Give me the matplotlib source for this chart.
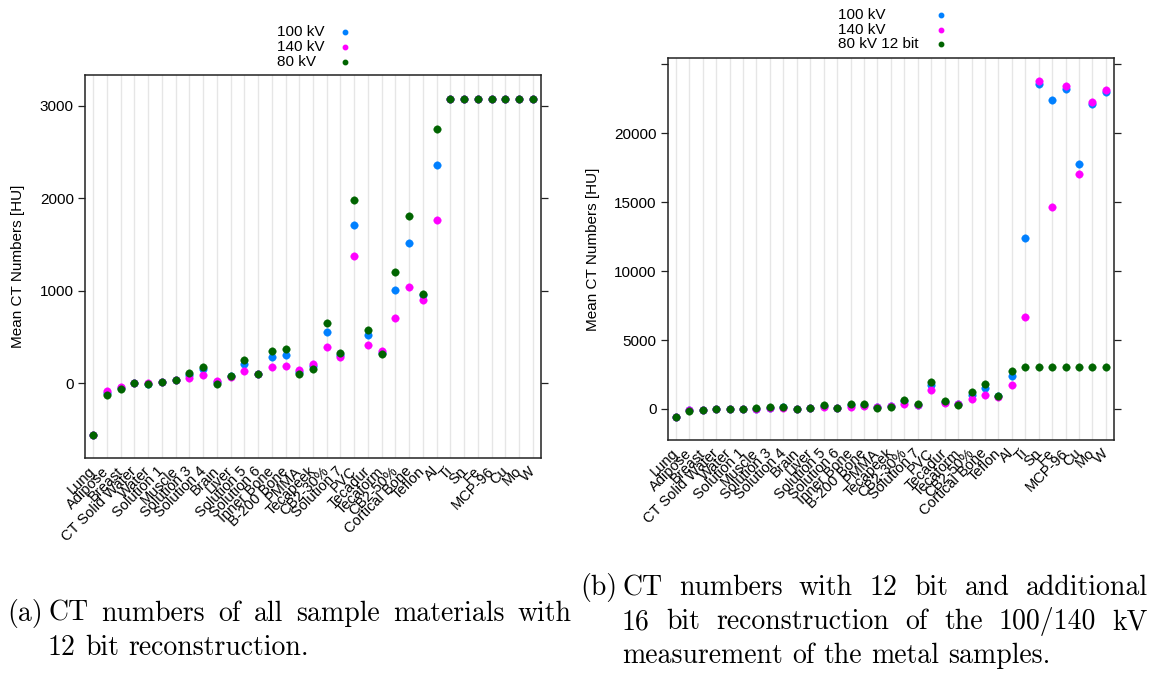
import numpy as np
import matplotlib
matplotlib.use("Agg")
import matplotlib.pyplot as plt
from matplotlib.lines import Line2D

# ---------------------------------------------------------------- data
materials = [
    "Lung", "Adipose", "Breast", "CT Solid Water", "Water", "Solution 1",
    "Muscle", "Solution 3", "Solution 4", "Brain", "Liver", "Solution 5",
    "Solution 6", "Inner Bone", "B-200 Bone", "PMMA", "Tecapeek", "CB2-30%",
    "Solution 7", "PVC", "Tecadur", "Tecaform", "CB2-50%", "Cortical Bone",
    "Teflon", "Al", "Ti", "Sn", "Fe", "MCP-96", "Cu", "Mo", "W",
]

# mean CT numbers [HU], 12 bit reconstruction
kv100_12bit = [-555, -105, -50, 3, -3, 15, 35, 90, 150, 15, 78, 213, 100,
               285, 300, 125, 185, 556, 307, 1707, 523, 332, 1010, 1511,
               952, 2362, 3071, 3071, 3071, 3071, 3071, 3071, 3071]
kv140_12bit = [-555, -85, -43, 0, -2, 14, 30, 61, 94, 29, 72, 137, 97,
               180, 191, 144, 213, 397, 287, 1379, 418, 353, 700, 1042,
               902, 1767, 3071, 3071, 3071, 3071, 3071, 3071, 3071]
kv80_12bit = [-555, -125, -58, 7, -4, 18, 40, 116, 180, -4, 83, 256, 105,
              354, 365, 105, 157, 655, 330, 1986, 577, 317, 1204, 1810,
              966, 2744, 3071, 3071, 3071, 3071, 3071, 3071, 3071]

# 16 bit reconstruction of the metal samples (100/140 kV)
metals = ["Ti", "Sn", "Fe", "MCP-96", "Cu", "Mo", "W"]
kv100_16bit_metals = [12413, 23570, 22411, 23208, 17774, 22097, 22967]
kv140_16bit_metals = [6665, 23790, 14659, 23425, 17026, 22266, 23136]

left_yticks = [0, 1000, 2000, 3000]
right_yticks = [0, 5000, 10000, 15000, 20000, 25000]

# ---------------------------------------------------------------- style
W, H = 1149, 680
DPI = 100
COL100, COL140, COL80 = "#0080ff", "#ff00ff", "#006400"
GRID = "#e6e6e6"
FRAME = "#222222"
SANS = ["Liberation Sans", "DejaVu Sans"]
SERIF = ["cmr10", "DejaVu Serif"]
FS = 11
XFS = 10.5

plt.rcParams["font.family"] = SANS
plt.rcParams["axes.unicode_minus"] = False

fig = plt.figure(figsize=(W / DPI, H / DPI), dpi=DPI)


def frac(x, y):
    """pixel position (from top-left) -> figure fraction"""
    return x / W, 1 - y / H


def make_axes(x0, y0, x1, y1):
    l, t = frac(x0, y0)
    r, b = frac(x1, y1)
    return fig.add_axes([l, b, r - l, t - b])


def dotplot(ax, series, ylim, yticks, ylabels):
    pos = np.arange(1, len(materials) + 1)
    for p in pos:
        ax.axvline(p, color=GRID, lw=1, zorder=0)
    for vals, col in series:
        ax.plot(pos, vals, "o", ms=5.4, color=col, mec=col, mew=0.3,
                linestyle="none", zorder=3, clip_on=False)
    ax.set_xlim(0.4, len(materials) + 0.6)
    ax.set_ylim(*ylim)
    ax.set_yticks(yticks)
    ax.set_yticklabels(ylabels, fontsize=FS)
    ax.set_xticks(pos)
    ax.set_xticklabels(materials, rotation=45, ha="right", va="center",
                       rotation_mode="anchor", fontsize=XFS)
    ax.tick_params(axis="x", length=0, pad=8)
    ax.tick_params(axis="y", direction="out", length=5, width=0.9,
                   color=FRAME, left=True, right=True, labelleft=True,
                   labelright=False, pad=3)
    for s in ax.spines.values():
        s.set_color(FRAME)
        s.set_linewidth(1.1)
    ax.set_facecolor("white")


def key(x_text, x_dot, rows, labels, colors):
    for y, lab, col in zip(rows, labels, colors):
        fx, fy = frac(x_text, y)
        fig.text(fx, fy, lab, ha="left", va="center", fontsize=FS)
        dx, dy = frac(x_dot, y)
        fig.add_artist(Line2D([dx], [dy], marker="o", ms=3.2, color=col,
                              linestyle="none", transform=fig.transFigure))


# ---------------------------------------------------------------- panel (a)
axL = make_axes(85, 75, 541, 458)
dotplot(axL,
        [(kv100_12bit, COL100), (kv140_12bit, COL140), (kv80_12bit, COL80)],
        (-808, 3332), left_yticks, [str(v) for v in left_yticks])
key(277, 345, [32, 47, 62], ["100 kV", "140 kV", "80 kV"],
    [COL100, COL140, COL80])
fig.text(*frac(18, 266), "Mean CT Numbers [HU]", rotation=90,
         ha="center", va="center", fontsize=FS)

# ---------------------------------------------------------------- panel (b)
kv100_mixed = list(kv100_12bit)
kv140_mixed = list(kv140_12bit)
for m, v100, v140 in zip(metals, kv100_16bit_metals, kv140_16bit_metals):
    i = materials.index(m)
    kv100_mixed[i] = v100
    kv140_mixed[i] = v140

axR = make_axes(667.7, 58.3, 1114, 440)
dotplot(axR,
        [(kv100_mixed, COL100), (kv140_mixed, COL140), (kv80_12bit, COL80)],
        (-2249, 25441), right_yticks,
        [str(v) if v < 25000 else "" for v in right_yticks])
key(838, 941, [14.7, 29.5, 44.3], ["100 kV", "140 kV", "80 kV 12 bit"],
    [COL100, COL140, COL80])
fig.text(*frac(593, 249), "Mean CT Numbers [HU]", rotation=90,
         ha="center", va="center", fontsize=FS)

# ---------------------------------------------------------------- captions
CAP_FS = 20
renderer = fig.canvas.get_renderer()


def caption_line(text, x0, y, x1=None):
    words = text.split(" ")
    objs = [fig.text(0, 0, w, ha="left", va="baseline", fontsize=CAP_FS,
                     family=SERIF) for w in words]
    widths = [o.get_window_extent(renderer).width for o in objs]
    if x1 is None or len(words) == 1:
        sp = fig.text(0, 0, "a a", fontsize=CAP_FS, family=SERIF)
        sp2 = fig.text(0, 0, "aa", fontsize=CAP_FS, family=SERIF)
        gap = (sp.get_window_extent(renderer).width
               - sp2.get_window_extent(renderer).width)
        sp.remove()
        sp2.remove()
    else:
        gap = (x1 - x0 - sum(widths)) / (len(words) - 1)
    x = x0
    for o, w in zip(objs, widths):
        o.set_position(frac(x, y))
        x += w + gap


caption_line("(a)", 7, 620.7)
caption_line("CT numbers of all sample materials with", 48, 620.7, 572)
caption_line("12 bit reconstruction.", 48, 655)

caption_line("(b)", 580, 595)
caption_line("CT numbers with 12 bit and additional", 622, 595, 1148)
caption_line("16 bit reconstruction of the 100/140 kV", 622, 629, 1148)
caption_line("measurement of the metal samples.", 622, 663)

fig.savefig("out.png", dpi=DPI, facecolor="white")
